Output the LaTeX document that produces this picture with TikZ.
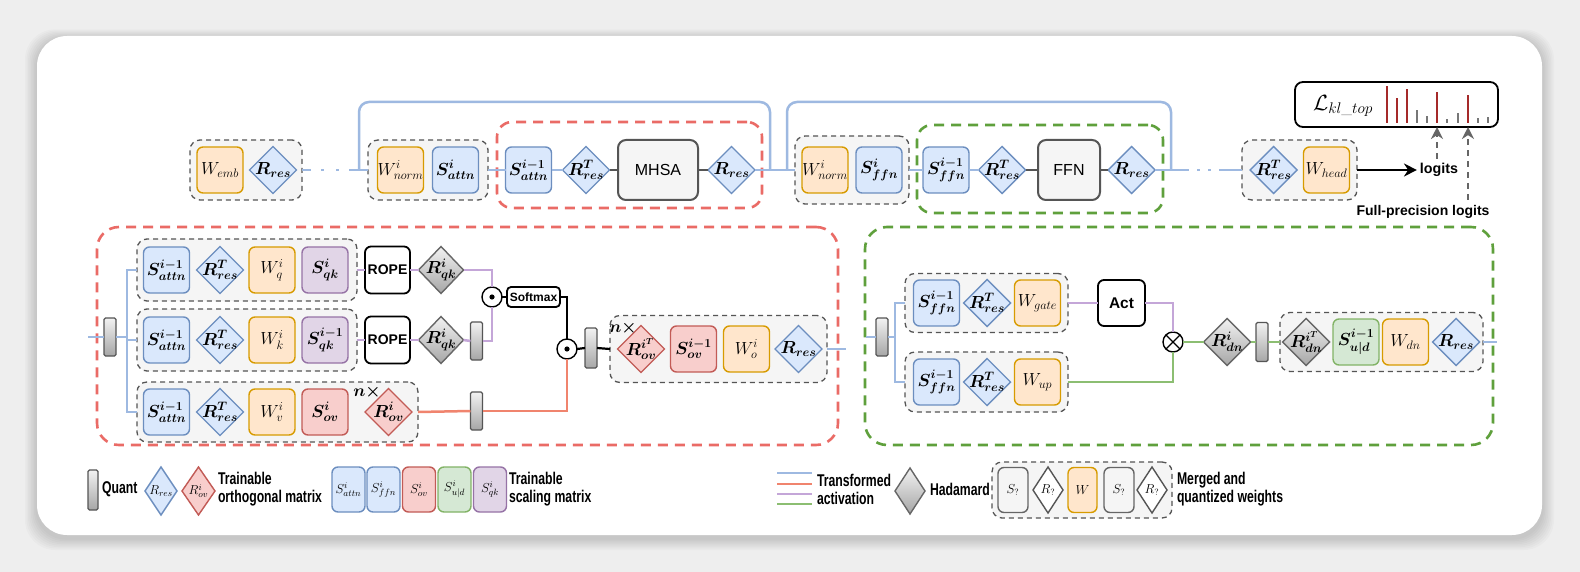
\RequirePackage{fix-cm}
\documentclass[tikz,border=0pt]{standalone}
\usepackage{amsmath}
\usepackage{bm}
\usepackage{fontspec}
\newfontfamily\hv{Liberation Sans}
\newfontfamily\hvc{Liberation Sans}[FakeStretch=0.72]
\usetikzlibrary{shapes.geometric,arrows.meta}
\definecolor{bgc}{HTML}{EEEEEE}
\definecolor{bfill}{HTML}{DAE8FC}\definecolor{bdraw}{HTML}{6C8EBF}
\definecolor{ofill}{HTML}{FFE6CC}\definecolor{odraw}{HTML}{D79B00}
\definecolor{rfill}{HTML}{F8CECC}\definecolor{rdraw}{HTML}{C25B56}
\definecolor{gfill}{HTML}{D5E8D4}\definecolor{gdraw}{HTML}{82B366}
\definecolor{pfill}{HTML}{E1D5E7}\definecolor{pdraw}{HTML}{9673A6}
\definecolor{grpfill}{HTML}{F5F5F5}\definecolor{grpdraw}{HTML}{555555}
\definecolor{reddash}{HTML}{EA6B66}\definecolor{greendash}{HTML}{5FA03C}
\definecolor{lblue}{HTML}{9EB9E1}\definecolor{lred}{HTML}{F0846E}
\definecolor{lpurple}{HTML}{C4A6D8}\definecolor{lgreen}{HTML}{8CBE72}
\definecolor{htop}{HTML}{F2F2F2}\definecolor{hbot}{HTML}{A6A6A6}\definecolor{hdraw}{HTML}{666666}
\definecolor{barred}{HTML}{A52A2A}\definecolor{bargrey}{HTML}{777777}
\newcommand\zw[1]{\makebox[0pt]{#1}}
\tikzset{
  every node/.style={inner sep=0pt, outer sep=0pt},
  bx/.style={rectangle, rounded corners=6pt, minimum width=46pt, minimum height=46pt, line width=1.4pt, font=\fontsize{17.5}{20}\selectfont},
  bbox/.style={bx, fill=bfill, draw=bdraw},
  obox/.style={bx, fill=ofill, draw=odraw},
  rbox/.style={bx, fill=rfill, draw=rdraw},
  gbox/.style={bx, fill=gfill, draw=gdraw},
  pbox/.style={bx, fill=pfill, draw=pdraw},
  dm/.style={diamond, aspect=1, minimum width=47pt, minimum height=47pt, line width=1.4pt, font=\fontsize{17.5}{20}\selectfont},
  bdia/.style={dm, fill=bfill, draw=bdraw},
  rdia/.style={dm, fill=rfill, draw=rdraw},
  hdia/.style={dm, draw=hdraw, top color=htop, bottom color=hbot},
  grp/.style={rectangle, rounded corners=10pt, draw=grpdraw, fill=grpfill, line width=1.3pt, dash pattern=on 5pt off 4pt},
  bigred/.style={rectangle, rounded corners=22pt, draw=reddash, line width=2.6pt, dash pattern=on 10pt off 7pt},
  biggreen/.style={rectangle, rounded corners=22pt, draw=greendash, line width=2.6pt, dash pattern=on 10pt off 7pt},
  qt/.style={rectangle, rounded corners=1.5pt, minimum width=12pt, minimum height=38pt, draw=grpdraw, line width=1.3pt, top color=htop, bottom color=hbot},
  blk/.style={rectangle, rounded corners=6pt, draw=black, fill=white, line width=1.8pt},
  bigbox/.style={rectangle, rounded corners=8pt, fill=grpfill, draw=grpdraw, line width=2pt, minimum width=80pt, minimum height=60pt, font=\hv\fontsize{16}{19}\selectfont},
  circ/.style={circle, draw=black, fill=white, line width=1.4pt, minimum size=20pt},
  lb/.style={draw=lblue, line width=2.5pt},
  lr/.style={draw=lred, line width=2.5pt},
  lp/.style={draw=lpurple, line width=2.5pt},
  lg/.style={draw=lgreen, line width=2.5pt},
  lk/.style={draw=black, line width=2.2pt},
  lgy/.style={draw=grpdraw, line width=2.5pt},
  leg/.style={font=\hvc\bfseries\fontsize{17}{18}\selectfont, align=left, anchor=west},
  lgm/.style={font=\fontsize{13}{15}\selectfont},
  nx/.style={font=\fontsize{17}{20}\selectfont},
}
\begin{document}
\begin{tikzpicture}[x=1pt,y=-1pt]
\useasboundingbox (0,0) rectangle (1580,572);
\fill[bgc] (0,0) rectangle (1580,572);
\foreach \i in {1,...,8}{
  \fill[black, opacity=0.018, rounded corners=30pt] (37-1.5*\i,36-1.2*\i+3) rectangle (1542+1.5*\i,535+1.5*\i+3);
}
\fill[white, rounded corners=30pt] (37,36) rectangle (1542,535);

% big dashed groups
\node[bigred, rounded corners=15pt, minimum width=265pt, minimum height=86pt] (RA) at (629.5,165) {};
\node[biggreen, rounded corners=15pt, minimum width=246pt, minimum height=88pt] (GF) at (1040,169) {};
\node[bigred, minimum width=741pt, minimum height=218pt] (RB) at (467.5,336) {};
\node[biggreen, minimum width=628pt, minimum height=218pt] (GB) at (1179,336) {};

% grey groups
\node[grp, minimum width=112pt, minimum height=60pt] (g0) at (246,170) {};
\node[grp, minimum width=120pt, minimum height=60pt] (g1) at (428,170) {};
\node[grp, minimum width=114pt, minimum height=68pt] (g2) at (852,170) {};
\node[grp, minimum width=115pt, minimum height=60pt] (g3) at (1299.5,170) {};
\node[grp, minimum width=220pt, minimum height=62pt] (gq) at (247,270) {};
\node[grp, minimum width=220pt, minimum height=62pt] (gk) at (247,340) {};
\node[grp, minimum width=281pt, minimum height=60pt] (gv) at (277.5,412) {};
\node[grp, minimum width=217pt, minimum height=67pt] (go) at (718.5,349) {};
\node[grp, minimum width=163pt, minimum height=59pt] (gg) at (986.5,303) {};
\node[grp, minimum width=163pt, minimum height=60pt] (gu) at (986.5,382) {};
\node[grp, minimum width=203pt, minimum height=59pt] (gd) at (1381.5,342) {};
\node[grp, minimum width=180pt, minimum height=56pt] (gm) at (1082,490) {};

% ---------- top row ----------
\node[obox] (We) at (220,170) {\zw{$W_{emb}$}};
\node[bdia] (R0) at (273,170) {\zw{$\bm{R_{res}}$}};
\node[obox] (Wn1) at (400.5,170) {\zw{$W^{i}_{norm}$}};
\node[bbox] (Sa1) at (455.5,170) {\zw{$\bm{S^{i}_{attn}}$}};
\node[bbox] (Sa0) at (528.5,170) {\zw{$\bm{S^{i-1}_{attn}}$}};
\node[bdia] (RT1) at (586,170) {\zw{$\bm{R^{T}_{res}}$}};
\node[bigbox] (MHSA) at (658,170) {MHSA};
\node[bdia] (Rr1) at (731.5,170) {\zw{$\bm{R_{res}}$}};
\node[obox] (Wn2) at (825,170) {\zw{$W^{i}_{norm}$}};
\node[bbox] (Sf1) at (879,170) {\zw{$\bm{S^{i}_{ffn}}$}};
\node[bbox] (Sf0) at (946,170) {\zw{$\bm{S^{i-1}_{ffn}}$}};
\node[bdia] (RT2) at (1002,170) {\zw{$\bm{R^{T}_{res}}$}};
\node[bigbox, minimum width=62pt] (FFN) at (1069,170) {FFN};
\node[bdia] (Rr2) at (1131.5,170) {\zw{$\bm{R_{res}}$}};
\node[bdia] (RT3) at (1273.5,170) {\zw{$\bm{R^{T}_{res}}$}};
\node[obox] (Wh) at (1326.5,170) {\zw{$W_{head}$}};
\node[font=\hv\bfseries\fontsize{14.3}{17}\selectfont] (lg) at (1439,170) {logits};
\node[font=\hv\bfseries\fontsize{14}{17}\selectfont] (fpl) at (1423,212) {Full-precision logits};
\node[blk, rounded corners=8pt, minimum width=203pt, minimum height=45pt] (Lb) at (1396.5,104.5) {};
\node[font=\fontsize{22}{24}\selectfont] (Lt) at (1343,106) {$\mathcal{L}_{kl\_top}$};
\foreach \x/\t in {1387/86,1397/98,1407/89,1437/92,1468/95}{\draw[barred, line width=2.3pt] (\x,123) -- (\x,\t);}
\foreach \x/\t in {1417/110,1427/116,1447/119,1458/113,1478/118,1488/117}{\draw[bargrey, line width=1.8pt] (\x,123) -- (\x,\t);}

\coordinate (j1) at (359,170);
\coordinate (j2) at (770,170);
\coordinate (j3) at (787,170);
\coordinate (j4) at (1171,170);
\coordinate (t1) at (560,102);
\coordinate (t2) at (980,102);
\coordinate (fp1) at (1437,159);
\coordinate (fp2) at (1468,200);

\draw[lb, dash pattern=on 9pt off 10pt on 3pt off 12pt on 3pt off 10pt on 40pt] (g0.east) -- (g1.west);
\draw[lb, rounded corners=10pt] (j1) |- (t1) -| (j2);
\draw[lb, rounded corners=10pt] (j3) |- (t2) -| (j4);
\draw[lb] (g1.east) -- (Sa0.west);
\draw[lb] (Sa0.east) -- (RT1.west);
\draw[lgy] (RT1.east) -- (MHSA.west);
\draw[lgy] (MHSA.east) -- (Rr1.west);
\draw[lb] (Rr1.east) -- (g2.west);
\draw[lb] (g2.east) -- (Sf0.west);
\draw[lb] (Sf0.east) -- (RT2.west);
\draw[lgy] (RT2.east) -- (FFN.west);
\draw[lgy] (FFN.east) -- (Rr2.west);
\draw[lb, dash pattern=on 34pt off 8pt on 3pt off 8pt on 3pt off 8pt on 60pt] (Rr2.east) -- (g3.west);
\draw[lk, line width=2.6pt, -{Stealth[length=13pt, width=13pt]}] (g3.east) -- ([xshift=-3pt]lg.west);
\draw[draw=hdraw, line width=2pt, dash pattern=on 6pt off 5pt, -{Stealth[length=12pt, width=12pt, fill=hdraw]}] (fp1) -- (fp1 |- Lb.south);
\draw[draw=hdraw, line width=2pt, dash pattern=on 6pt off 5pt, -{Stealth[length=12pt, width=12pt, fill=hdraw]}] (fp2) -- (fp2 |- Lb.south);

% ---------- attention block ----------
\node[qt] (q1) at (110,337) {};
\foreach \r/\y in {q/270,k/340,v/412}{
  \node[bbox] (\r S) at (166.5,\y) {\zw{$\bm{S^{i-1}_{attn}}$}};
  \node[bdia] (\r R) at (220,\y) {\zw{$\bm{R^{T}_{res}}$}};
}
\node[obox] (qW) at (272,270) {\zw{$W^{i}_{q}$}};
\node[obox] (kW) at (272,340) {\zw{$W^{i}_{k}$}};
\node[obox] (vW) at (272,412) {\zw{$W^{i}_{v}$}};
\node[pbox] (qQ) at (325,270) {\zw{$\bm{S^{i}_{qk}}$}};
\node[pbox] (kQ) at (325,340) {\zw{$\bm{S^{i-1}_{qk}}$}};
\node[rbox] (vO) at (325,412) {\zw{$\bm{S^{i}_{ov}}$}};
\node[rdia] (vRo) at (388.5,412) {\zw{$\bm{R^{i}_{ov}}$}};
\node[nx] (nx1) at (367,392) {$\bm{n\times}$};
\node[blk, minimum width=45pt, minimum height=47pt, font=\hv\bfseries\fontsize{14}{16}\selectfont] (rp1) at (387.5,270) {ROPE};
\node[blk, minimum width=45pt, minimum height=47pt, font=\hv\bfseries\fontsize{14}{16}\selectfont] (rp2) at (387.5,340) {ROPE};
\node[hdia, minimum width=45pt] (Rq1) at (441,270) {\zw{$\bm{R^{i}_{qk}}$}};
\node[hdia, minimum width=45pt] (Rq2) at (441,340) {\zw{$\bm{R^{i}_{qk}}$}};
\node[qt] (q2) at (476.5,341) {};
\node[qt] (q3) at (476.5,411) {};
\node[circ] (c1) at (492,297) {};
\fill (c1.center) circle (2.6pt);
\node[blk, rounded corners=4pt, minimum width=53pt, minimum height=20pt, font=\hv\bfseries\fontsize{12}{14}\selectfont] (sm) at (533.5,297) {Softmax};
\node[circ] (c2) at (567,349) {};
\fill (c2.center) circle (2.6pt);
\node[qt, minimum height=40pt] (q4) at (591,348) {};
\node[rdia] (oR) at (641,349) {\zw{$\bm{R^{i^T}_{ov}}$}};
\node[nx] (nx2) at (623,328) {$\bm{n\times}$};
\node[rbox] (oS) at (693.5,349) {\zw{$\bm{S^{i-1}_{ov}}$}};
\node[obox] (oW) at (746.5,349) {\zw{$W^{i}_{o}$}};
\node[bdia] (oRr) at (798.5,349) {\zw{$\bm{R_{res}}$}};

\coordinate (inL) at (88,337);
\coordinate (br1) at (127,337);
\coordinate (outL) at (846,349);
\draw[lb] (inL) -- (q1.west);
\draw[lb] (q1.east) -- (br1);
\draw[lb] (gq.west) -| (br1) |- (gv.west);
\draw[lb] (br1) -- (br1 |- gk.west) -- (gk.west);
\draw[lp] (gq.east) -- (rp1.west);
\draw[lp] (rp1.east) -- (Rq1.west);
\draw[lp] (Rq1.east) -| (c1.north);
\draw[lp] (gk.east) -- (rp2.west);
\draw[lp] (rp2.east) -- (Rq2.west);
\draw[lp] (Rq2.east) -- (q2.west);
\draw[lp] (q2.east) -| (c1.south);
\draw[lk] (c1.east) -- (sm.west);
\draw[lk] (sm.east) -| (c2.north);
\draw[lk] (c2.east) -- (q4.west);
\draw[lk] (q4.east) -- (go.west);
\draw[lr] (gv.east) -- (q3.west);
\draw[lr] (q3.east) -| (c2.south);
\draw[lb] (go.east) -- (outL);

% ---------- FFN block ----------
\node[qt] (q5) at (882,337) {};
\node[bbox] (gS) at (936.5,303) {\zw{$\bm{S^{i-1}_{ffn}}$}};
\node[bdia] (gR) at (987,303) {\zw{$\bm{R^{T}_{res}}$}};
\node[obox] (gW) at (1037.5,303) {\zw{$W_{gate}$}};
\node[bbox] (uS) at (936.5,382) {\zw{$\bm{S^{i-1}_{ffn}}$}};
\node[bdia] (uR) at (987,382) {\zw{$\bm{R^{T}_{res}}$}};
\node[obox] (uW) at (1037.5,382) {\zw{$W_{up}$}};
\node[blk, minimum width=47pt, minimum height=46pt, font=\hv\bfseries\fontsize{15.5}{18}\selectfont] (act) at (1121.5,303) {Act};
\node[circ, path picture={\draw[line width=1.2pt] (path picture bounding box.north west) -- (path picture bounding box.south east) (path picture bounding box.north east) -- (path picture bounding box.south west);}] (ox) at (1173,342) {};
\node[hdia] (Rd) at (1227,342) {\zw{$\bm{R^{i}_{dn}}$}};
\node[qt, minimum height=39pt] (q6) at (1262,342) {};
\node[hdia] (dR) at (1306,342) {\zw{$\bm{R^{i^T}_{dn}}$}};
\node[gbox] (dS) at (1356,342) {\zw{$\bm{S^{i-1}_{u|d}}$}};
\node[obox] (dW) at (1405.5,342) {\zw{$W_{dn}$}};
\node[bdia] (dRr) at (1456,342) {\zw{$\bm{R_{res}}$}};

\coordinate (inR) at (866,337);
\coordinate (br2) at (895,337);
\coordinate (outR) at (1497,342);
\draw[lb] (inR) -- (q5.west);
\draw[lb] (q5.east) -- (br2);
\draw[lb] (gg.west) -| (br2) |- (gu.west);
\draw[lp] (gg.east) -- (act.west);
\draw[lp] (act.east) -| (ox.north);
\draw[lg] (gu.east) -| (ox.south);
\draw[lg] (ox.east) -- (Rd.west);
\draw[lg] (Rd.east) -- (q6.west);
\draw[lg] (q6.east) -- (gd.west);
\draw[lb] (gd.east) -- (outR);

% ---------- legend ----------
\node[qt, minimum width=10pt, minimum height=40pt] (qL) at (93,490) {};
\node[leg] (tq) at (102,489) {Quant};
\node[bdia, minimum width=32pt, minimum height=48pt, lgm] (lR1) at (161,491) {\zw{$R_{res}$}};
\node[rdia, minimum width=33pt, minimum height=48pt, lgm] (lR2) at (198.5,491) {\zw{$R^{i}_{ov}$}};
\node[leg] (to) at (218,489) {Trainable\\orthogonal matrix};
\node[bbox, minimum width=33pt, minimum height=45pt, lgm] (lS1) at (348.5,489.5) {$S^{i}_{attn}$};
\node[bbox, minimum width=33pt, minimum height=45pt, lgm] (lS2) at (383.5,489.5) {$S^{i}_{ffn}$};
\node[rbox, minimum width=33pt, minimum height=45pt, lgm] (lS3) at (419,489.5) {$S^{i}_{ov}$};
\node[gbox, minimum width=33pt, minimum height=45pt, lgm] (lS4) at (454.5,489.5) {$S^{i}_{u|d}$};
\node[pbox, minimum width=33pt, minimum height=45pt, lgm] (lS5) at (490,489.5) {$S^{i}_{qk}$};
\node[leg] (ts) at (509,489) {Trainable\\scaling matrix};
\coordinate (la) at (777,473); \coordinate (lz) at (812,473);
\draw[lb] (la) -- (lz);
\draw[lr] ([yshift=-11pt]la) -- ([yshift=-11pt]lz);
\draw[lp] ([yshift=-21pt]la) -- ([yshift=-21pt]lz);
\draw[lg] ([yshift=-31pt]la) -- ([yshift=-31pt]lz);
\node[leg] (tt) at (817,489) {Transformed\\activation};
\node[hdia, minimum width=30pt, minimum height=46pt] (lH) at (910,491) {};
\node[leg] (th) at (930,489) {Hadamard};
\node[bx, fill=grpfill, draw=hdraw, minimum width=30pt, minimum height=45pt, lgm] (mS1) at (1013,490) {$S_{?}$};
\node[dm, fill=white, draw=grpdraw, minimum width=30pt, minimum height=46pt, lgm] (mR1) at (1048,490) {\zw{$R_{?}$}};
\node[obox, minimum width=29pt, minimum height=45pt, lgm] (mW) at (1082.5,490) {$W$};
\node[bx, fill=grpfill, draw=hdraw, minimum width=30pt, minimum height=45pt, lgm] (mS2) at (1119,490) {$S_{?}$};
\node[dm, fill=white, draw=grpdraw, minimum width=30pt, minimum height=46pt, lgm] (mR2) at (1152,490) {\zw{$R_{?}$}};
\node[leg] (tm) at (1177,489) {Merged and\\quantized weights};
\end{tikzpicture}
\end{document}
